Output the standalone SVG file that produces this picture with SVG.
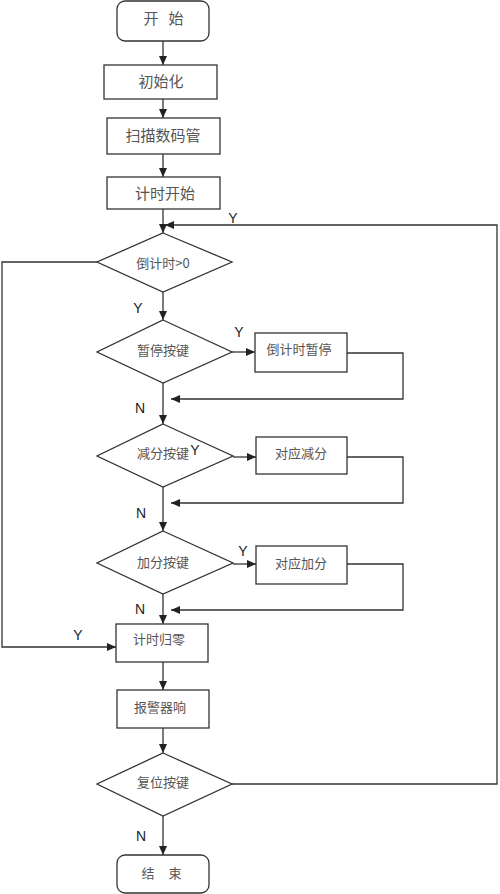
<svg xmlns="http://www.w3.org/2000/svg" width="500" height="894" viewBox="0 0 500 894">
<defs>
<marker id="arr" markerUnits="userSpaceOnUse" markerWidth="10" markerHeight="8" refX="9" refY="4" orient="auto">
<path d="M0,0 L9,4 L0,8 Z" fill="#222"/>
</marker>
<style>
.box{fill:#fff;stroke:#333;stroke-width:1.3}
.ln{fill:none;stroke:#333;stroke-width:1.3}
.t{font-family:"Noto Sans CJK SC","Liberation Sans",sans-serif;fill:#555;text-anchor:middle;dominant-baseline:central}
.tl{font-size:15px}
.ts{font-size:13px}
.lb{font-family:"Liberation Sans",Arial,sans-serif;font-size:14px;fill:#222;text-anchor:middle;dominant-baseline:central}
</style>
</defs>
<rect width="500" height="894" fill="#fff"/>
<g id="connectors">
<line class="ln" x1="163" y1="41" x2="163" y2="65" marker-end="url(#arr)"/>
<line class="ln" x1="163" y1="99" x2="163" y2="118" marker-end="url(#arr)"/>
<line class="ln" x1="163" y1="154" x2="163" y2="177" marker-end="url(#arr)"/>
<line class="ln" x1="163" y1="209" x2="163" y2="233" marker-end="url(#arr)"/>
<polyline class="ln" points="232,784 497,784 497,225 165,225" marker-end="url(#arr)"/>
<polyline class="ln" points="97,262 2,262 2,647 116,647" marker-end="url(#arr)"/>
<line class="ln" x1="163" y1="292" x2="163" y2="320" marker-end="url(#arr)"/>
<line class="ln" x1="232" y1="352" x2="255" y2="352" marker-end="url(#arr)"/>
<polyline class="ln" points="347,353 403,353 403,399 171,399" marker-end="url(#arr)"/>
<line class="ln" x1="163" y1="383" x2="163" y2="424" marker-end="url(#arr)"/>
<line class="ln" x1="233" y1="457" x2="256" y2="457" marker-end="url(#arr)"/>
<polyline class="ln" points="347,457 403,457 403,503 171,503" marker-end="url(#arr)"/>
<line class="ln" x1="163" y1="487" x2="163" y2="531" marker-end="url(#arr)"/>
<line class="ln" x1="233" y1="564" x2="256" y2="564" marker-end="url(#arr)"/>
<polyline class="ln" points="347,564 403,564 403,610 171,610" marker-end="url(#arr)"/>
<line class="ln" x1="163" y1="594" x2="163" y2="624" marker-end="url(#arr)"/>
<line class="ln" x1="163" y1="662" x2="163" y2="690" marker-end="url(#arr)"/>
<line class="ln" x1="163" y1="728" x2="163" y2="753" marker-end="url(#arr)"/>
<line class="ln" x1="163" y1="816" x2="163" y2="855" marker-end="url(#arr)"/>
<text class="lb" x="233" y="218">Y</text>
<text class="lb" x="138" y="308">Y</text>
<text class="lb" x="239" y="332">Y</text>
<text class="lb" x="140" y="408">N</text>
<text class="lb" x="141" y="513">N</text>
<text class="lb" x="243" y="551">Y</text>
<text class="lb" x="140" y="609">N</text>
<text class="lb" x="78" y="635">Y</text>
<text class="lb" x="141" y="836">N</text>
</g>
<g id="start"><rect class="box" x="117" y="1" width="92" height="40" rx="8"/><text class="t tl" x="151" y="17">开</text><text class="t tl" x="176" y="17">始</text></g>
<g id="init"><rect class="box" x="104" y="65" width="113" height="34"/><text class="t tl" x="161" y="80">初始化</text></g>
<g id="scan"><rect class="box" x="107" y="118" width="113" height="36"/><text class="t tl" x="163" y="134">扫描数码管</text></g>
<g id="timerstart"><rect class="box" x="107" y="177" width="113" height="32"/><text class="t tl" x="165" y="192">计时开始</text></g>
<g id="countdown"><polygon class="box" points="163,233 232,262 163,292 97,262"/><text class="t ts" x="163" y="262">倒计时&gt;0</text></g>
<g id="pause"><polygon class="box" points="163,320 232,352 163,383 97,352"/><text class="t ts" x="163" y="349">暂停按键</text></g>
<g id="pausebox"><rect class="box" x="255" y="333" width="92" height="39"/><text class="t ts" x="299" y="348">倒计时暂停</text></g>
<g id="minus"><polygon class="box" points="163,424 233,456 163,487 97,456"/><text class="t ts" x="163" y="452">减分按键</text><text class="lb" x="195" y="450">Y</text></g>
<g id="minusbox"><rect class="box" x="256" y="437" width="91" height="37"/><text class="t ts" x="301" y="452">对应减分</text></g>
<g id="plus"><polygon class="box" points="163,531 233,563 163,594 97,563"/><text class="t ts" x="163" y="561">加分按键</text></g>
<g id="plusbox"><rect class="box" x="256" y="546" width="91" height="38"/><text class="t ts" x="301" y="562">对应加分</text></g>
<g id="zero"><rect class="box" x="116" y="624" width="92" height="38"/><text class="t ts" x="159" y="638">计时归零</text></g>
<g id="alarm"><rect class="box" x="117" y="690" width="92" height="38"/><text class="t ts" x="160" y="706">报警器响</text></g>
<g id="reset"><polygon class="box" points="163,753 232,784 163,816 97,784"/><text class="t ts" x="163" y="781">复位按键</text></g>
<g id="end"><rect class="box" x="117" y="855" width="92" height="38" rx="8"/><text class="t ts" x="148" y="872">结</text><text class="t ts" x="175" y="872">束</text></g>
</svg>
